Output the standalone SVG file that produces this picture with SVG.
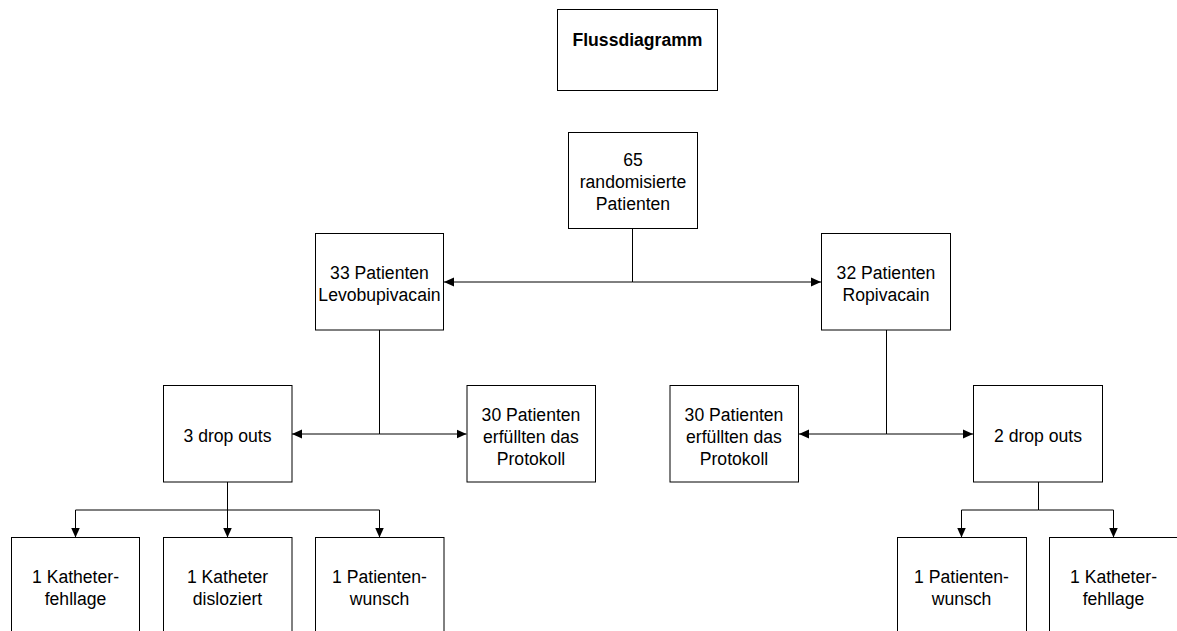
<svg xmlns="http://www.w3.org/2000/svg" width="1177" height="631" viewBox="0 0 1177 631">
<style>
.box{fill:#fff;stroke:#000;stroke-width:1}
.t{font-family:"Liberation Sans",Arial,sans-serif;font-size:17.6px;fill:#000;text-anchor:middle}
.b{font-weight:bold}
.c{fill:none;stroke:#000;stroke-width:1}
</style>
<defs>
<marker id="arr" markerUnits="userSpaceOnUse" markerWidth="10" markerHeight="10" viewBox="0 0 10 10" refX="10" refY="5" orient="auto">
<path d="M0,0.5 L10,5 L0,9.5 Z" fill="#000"/>
</marker>
</defs>
<rect width="1177" height="631" fill="#fff"/>
<g id="connectors">
<path class="c" d="M632.5,229 V282 H444" marker-end="url(#arr)"/>
<path class="c" d="M632.5,282 H821" marker-end="url(#arr)"/>
<path class="c" d="M379.5,330 V434 H292" marker-end="url(#arr)"/>
<path class="c" d="M379.5,434 H466.5" marker-end="url(#arr)"/>
<path class="c" d="M886.5,330 V434 H799" marker-end="url(#arr)"/>
<path class="c" d="M886.5,434 H973" marker-end="url(#arr)"/>
<path class="c" d="M227.5,482 V510 H75.5 V537.5" marker-end="url(#arr)"/>
<path class="c" d="M227.5,482 V537.5" marker-end="url(#arr)"/>
<path class="c" d="M227.5,510 H379.5 V537.5" marker-end="url(#arr)"/>
<path class="c" d="M1038.5,482 V510 H961.5 V537.5" marker-end="url(#arr)"/>
<path class="c" d="M1038.5,510 H1113.5 V537.5" marker-end="url(#arr)"/>
</g>
<g id="title">
<rect class="box" x="557.5" y="9.5" width="160" height="81"/>
<text class="t b" x="637.5" y="46">Flussdiagramm</text>
</g>
<g id="n65">
<rect class="box" x="568.5" y="132.5" width="129" height="96"/>
<text class="t" x="633" y="166">65</text>
<text class="t" x="633" y="188">randomisierte</text>
<text class="t" x="633" y="210">Patienten</text>
</g>
<g id="n33">
<rect class="box" x="315.5" y="233.5" width="128" height="96.5"/>
<text class="t" x="379.5" y="279">33 Patienten</text>
<text class="t" x="379.5" y="301">Levobupivacain</text>
</g>
<g id="n32">
<rect class="box" x="821.5" y="233.5" width="129" height="96.5"/>
<text class="t" x="886" y="279">32 Patienten</text>
<text class="t" x="886" y="301">Ropivacain</text>
</g>
<g id="drop3">
<rect class="box" x="163.5" y="385.5" width="128.5" height="96.5"/>
<text class="t" x="227.5" y="442">3 drop outs</text>
</g>
<g id="ok30l">
<rect class="box" x="467" y="385.5" width="128.5" height="96.5"/>
<text class="t" x="531" y="420.5">30 Patienten</text>
<text class="t" x="531" y="442.5">erfüllten das</text>
<text class="t" x="531" y="464.5">Protokoll</text>
</g>
<g id="ok30r">
<rect class="box" x="670" y="385.5" width="128.5" height="96.5"/>
<text class="t" x="734" y="420.5">30 Patienten</text>
<text class="t" x="734" y="442.5">erfüllten das</text>
<text class="t" x="734" y="464.5">Protokoll</text>
</g>
<g id="drop2">
<rect class="box" x="973.5" y="385.5" width="129" height="96.5"/>
<text class="t" x="1038" y="442">2 drop outs</text>
</g>
<g id="l1">
<rect class="box" x="11.5" y="537.5" width="128" height="97"/>
<text class="t" x="75.5" y="583">1 Katheter-</text>
<text class="t" x="75.5" y="604.5">fehllage</text>
</g>
<g id="l2">
<rect class="box" x="163.5" y="537.5" width="128.5" height="97"/>
<text class="t" x="227.5" y="583">1 Katheter</text>
<text class="t" x="227.5" y="604.5">disloziert</text>
</g>
<g id="l3">
<rect class="box" x="315.5" y="537.5" width="128.5" height="97"/>
<text class="t" x="379.5" y="583">1 Patienten-</text>
<text class="t" x="379.5" y="604.5">wunsch</text>
</g>
<g id="r1">
<rect class="box" x="897.5" y="537.5" width="129" height="97"/>
<text class="t" x="961.5" y="583">1 Patienten-</text>
<text class="t" x="961.5" y="604.5">wunsch</text>
</g>
<g id="r2">
<rect class="box" x="1049.5" y="537.5" width="129" height="97"/>
<text class="t" x="1113.5" y="583">1 Katheter-</text>
<text class="t" x="1113.5" y="604.5">fehllage</text>
</g>
</svg>
